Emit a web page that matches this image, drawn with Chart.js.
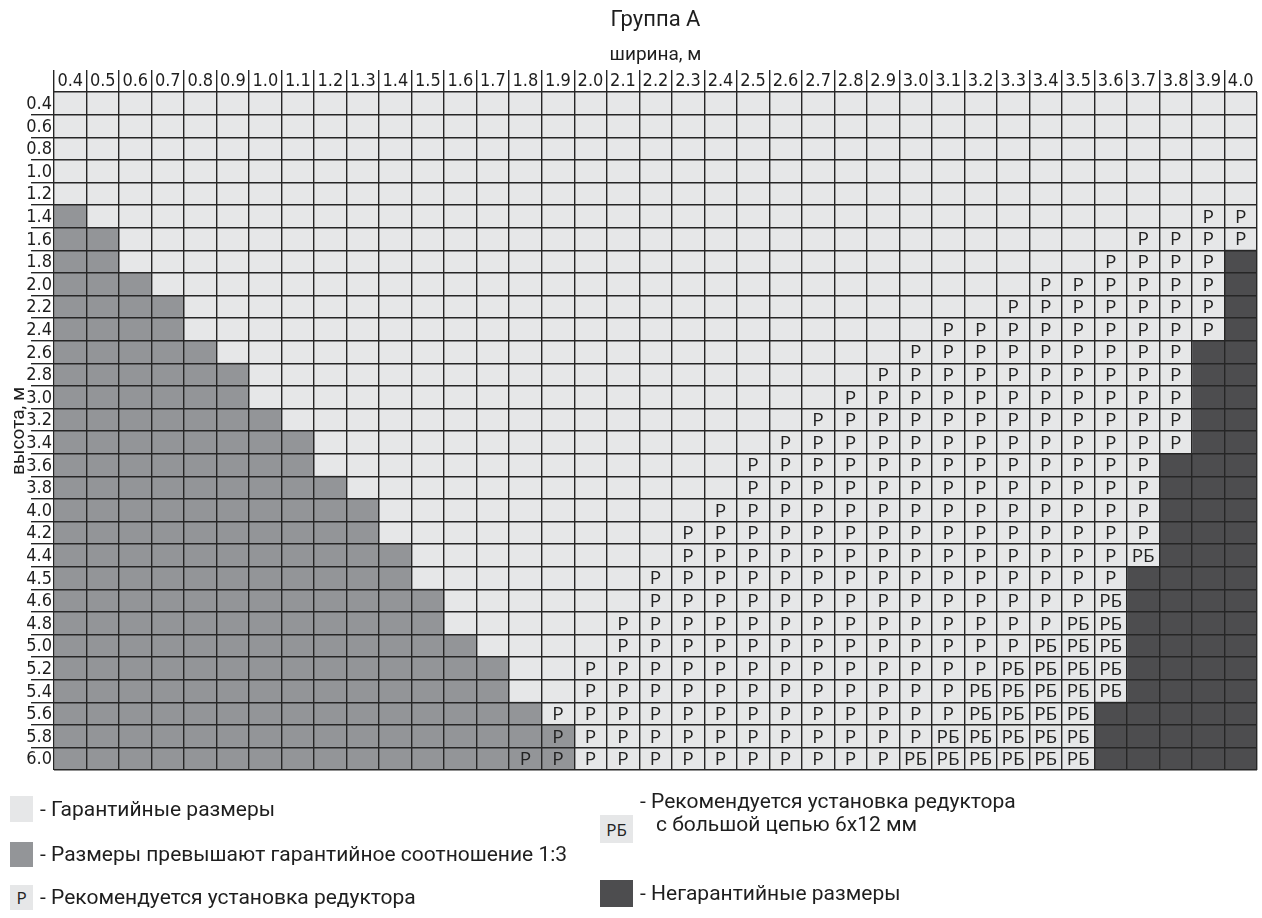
<!DOCTYPE html>
<html>
<head>
<meta charset="utf-8">
<script src="https://cdn.jsdelivr.net/npm/chart.js@4.4.1/dist/chart.umd.min.js"></script>
<style>
html,body{margin:0;padding:0;background:#fff;}
#wrap{position:relative;width:1262px;height:918px;overflow:hidden;}
#c{position:absolute;left:0;top:0;}
.txt{position:absolute;font-family:Roboto,'DejaVu Sans',sans-serif;font-size:21px;color:#1e1e1e;white-space:nowrap;height:24px;line-height:24px;}
.sw{position:absolute;display:flex;align-items:center;justify-content:center;font-family:'Open Sans',sans-serif;font-size:17px;color:#222;}
</style>
</head>
<body>
<div id="wrap">
<canvas id="c" width="1262" height="918"></canvas>
<div class="sw" style="left:10px;top:796px;width:23px;height:26px;background:#e6e7e8;"></div>
<div class="txt" style="left:40px;top:797px;">- Гарантийные размеры</div>
<div class="sw" style="left:10px;top:842px;width:23px;height:25px;background:#939598;"></div>
<div class="txt" style="left:40px;top:842px;">- Размеры превышают гарантийное соотношение 1:3</div>
<div class="sw" style="left:10px;top:885px;width:23px;height:25px;background:#e6e7e8;">Р</div>
<div class="txt" style="left:40px;top:885px;">- Рекомендуется установка редуктора</div>
<div class="sw" style="left:600px;top:815px;width:33px;height:28px;background:#e6e7e8;">РБ</div>
<div class="txt" style="left:640px;top:789px;">- Рекомендуется установка редуктора</div>
<div class="txt" style="left:656px;top:812px;">с большой цепью 6х12 мм</div>
<div class="sw" style="left:600px;top:880px;width:33px;height:27px;background:#4d4d4f;"></div>
<div class="txt" style="left:640px;top:881px;">- Негарантийные размеры</div>
</div>
<script>
// Column categories: width, m
const widths = ['0.4','0.5','0.6','0.7','0.8','0.9','1.0','1.1','1.2','1.3','1.4','1.5','1.6','1.7','1.8','1.9','2.0','2.1','2.2','2.3','2.4','2.5','2.6','2.7','2.8','2.9','3.0','3.1','3.2','3.3','3.4','3.5','3.6','3.7','3.8','3.9','4.0'];
// Row categories: height, m
const heights = ['0.4','0.6','0.8','1.0','1.2','1.4','1.6','1.8','2.0','2.2','2.4','2.6','2.8','3.0','3.2','3.4','3.6','3.8','4.0','4.2','4.4','4.5','4.6','4.8','5.0','5.2','5.4','5.6','5.8','6.0'];
// Number of cells (from the smallest width) exceeding the 1:3 ratio, per height row
const overRatioCount = [0,0,0,0,0,1,2,2,3,4,4,5,6,6,7,8,8,9,10,10,11,11,12,12,13,14,14,15,16,16];
// Width from which a reducer "Р" is recommended, per height row
const reducerFrom = [null,null,null,null,null,'3.9','3.7','3.6','3.4','3.3','3.1','3.0','2.9','2.8','2.7','2.6','2.5','2.5','2.4','2.3','2.3','2.2','2.2','2.1','2.1','2.0','2.0','1.9','1.9','1.8'];
// Width from which a reducer with big chain "РБ" is recommended, per height row
const bigChainFrom = [null,null,null,null,null,null,null,null,null,null,null,null,null,null,null,null,null,null,null,null,'3.7',null,'3.6','3.5','3.4','3.3','3.2','3.2','3.1','3.0'];
// Width from which sizes are non-guaranteed, per height row
const nonGuaranteedFrom = [null,null,null,null,null,null,null,'4.0','4.0','4.0','4.0','3.9','3.9','3.9','3.9','3.9','3.8','3.8','3.8','3.8','3.8','3.7','3.7','3.7','3.7','3.7','3.7','3.6','3.6','3.6'];

const COL_LIGHT = '#e6e7e8', COL_OVER = '#939598', COL_DARK = '#4d4d4f', LINE = '#262626';
const idx = v => v === null ? widths.length : widths.indexOf(v);

function cellColor(i, j) {
  if (j >= idx(nonGuaranteedFrom[i])) return COL_DARK;
  if (j < overRatioCount[i]) return COL_OVER;
  return COL_LIGHT;
}
function cellText(i, j) {
  if (j >= idx(nonGuaranteedFrom[i])) return '';
  if (j >= idx(bigChainFrom[i])) return 'РБ';
  if (j >= idx(reducerFrom[i])) return 'Р';
  return '';
}

const datasets = widths.map((w, j) => ({
  label: w,
  data: heights.map(() => 1),
  backgroundColor: heights.map((h, i) => cellColor(i, j)),
  borderWidth: 0,
  barPercentage: 1,
  categoryPercentage: 1,
  stack: 's'
}));

const cellTextPlugin = {
  id: 'cellText',
  afterDatasetsDraw(chart) {
    const ctx = chart.ctx;
    ctx.save();
    ctx.font = '19px "Open Sans", "DejaVu Sans", sans-serif';
    ctx.fillStyle = '#222';
    ctx.textAlign = 'center';
    ctx.textBaseline = 'middle';
    chart.data.datasets.forEach((ds, j) => {
      chart.getDatasetMeta(j).data.forEach((el, i) => {
        const t = cellText(i, j);
        if (!t) return;
        const p = el.getProps(['x', 'y', 'base'], true);
        ctx.fillText(t, (p.x + p.base) / 2, p.y + 1);
      });
    });
    ctx.restore();
  }
};

const tickFont = {family: "'Liberation Sans Narrow','DejaVu Sans Condensed',Roboto,sans-serif", size: 18};

new Chart(document.getElementById('c'), {
  type: 'bar',
  data: { labels: heights, datasets },
  plugins: [cellTextPlugin],
  options: {
    indexAxis: 'y',
    responsive: false,
    animation: false,
    devicePixelRatio: 1,
    layout: { padding: { left: 0, right: 5, top: 0, bottom: 148 } },
    plugins: {
      legend: { display: false },
      tooltip: { enabled: false },
      title: {
        display: true, text: 'Группа А', fullSize: false,
        color: '#1e1e1e',
        font: { family: 'Roboto, sans-serif', size: 22, weight: 'normal', lineHeight: 1.25 },
        padding: { top: 7, bottom: 0 }
      }
    },
    scales: {
      x: {
        type: 'linear', position: 'top', stacked: true, min: 0, max: widths.length,
        afterBuildTicks: s => { s.ticks = widths.map((w, i) => ({ value: i })).concat([{ value: widths.length }]); },
        afterFit: s => { s.height = 57.5; },
        ticks: {
          autoSkip: false, maxRotation: 0, minRotation: 0, padding: -22, labelOffset: 16.25,
          color: '#1e1e1e', font: tickFont,
          callback: (v, i) => widths[i] !== undefined ? widths[i] : ''
        },
        grid: {
          z: 1, color: LINE, lineWidth: 1.4, tickLength: 22, drawOnChartArea: true,
          tickColor: c => c.index === widths.length ? 'rgba(0,0,0,0)' : LINE
        },
        border: { display: false },
        title: {
          display: true, text: 'ширина, м', color: '#1e1e1e',
          font: { family: 'Roboto, sans-serif', size: 19, lineHeight: 1.2 },
          padding: { top: 9, bottom: 0 }
        }
      },
      y: {
        type: 'category', stacked: true, offset: true,
        afterFit: s => { s.width = 54; },
        ticks: {
          padding: -21, labelOffset: 1, color: '#1e1e1e', font: tickFont, autoSkip: false
        },
        grid: {
          z: 1, offset: true, color: LINE, lineWidth: 1.4, tickLength: 23, drawOnChartArea: true,
          tickColor: c => (c.index === undefined || c.index === 0) ? 'rgba(0,0,0,0)' : LINE
        },
        border: { display: false },
        title: {
          display: true, text: 'высота, м', color: '#1e1e1e',
          font: { family: 'Roboto, sans-serif', size: 19, lineHeight: 1.2 },
          padding: { top: 8, bottom: 0 }
        }
      }
    }
  }
});
</script>
</body>
</html>
